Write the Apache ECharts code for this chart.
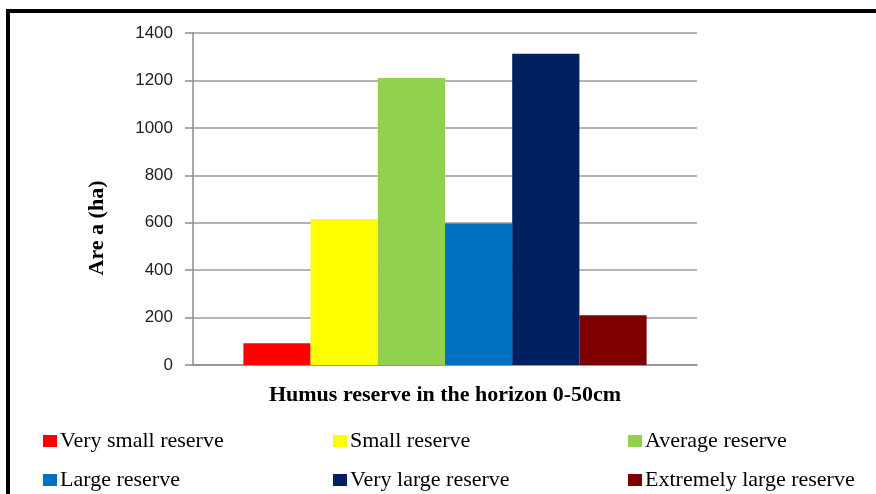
<!DOCTYPE html>
<html>
<head>
<meta charset="utf-8">
<script src="https://cdn.jsdelivr.net/npm/echarts@6/dist/echarts.min.js"></script>
<style>
  html, body { margin: 0; padding: 0; background: #fff; }
  #chart { width: 876px; height: 494px; }
</style>
</head>
<body>
<div id="chart"></div>
<script>
// Humus reserve chart data
const categories = ['Humus reserve in the horizon 0-50cm'];
const seriesNames = ['Very small reserve', 'Small reserve', 'Average reserve',
                     'Large reserve', 'Very large reserve', 'Extremely large reserve'];
const seriesValues = [92, 616, 1210, 597, 1313, 210];
const seriesColors = ['#ff0000', '#ffff00', '#92d050', '#0070c0', '#002060', '#7f0000'];
const yTicks = { min: 0, max: 1400, interval: 200 };

const serif = "'Liberation Serif', 'Times New Roman', serif";

function jsMain() {
  const chart = echarts.init(document.getElementById('chart'));

  const series = seriesNames.map((name, i) => ({
    name: name,
    type: 'bar',
    data: [seriesValues[i]],
    barGap: '0%',
    barCategoryGap: '20%',
    itemStyle: { color: seriesColors[i] },
    emphasis: { disabled: true }
  }));

  // legend: three columns of two items
  const legendCol = (left, names) => ({
    orient: 'vertical',
    left: left,
    top: 430,
    padding: 0,
    itemGap: 17,
    itemWidth: 14,
    itemHeight: 12,
    icon: 'rect',
    data: names,
    textStyle: { fontFamily: serif, fontSize: 22, lineHeight: 22, color: '#000', padding: [0, 0, 0, -2] }
  });

  const option = {
    animation: false,
    backgroundColor: '#fff',
    grid: { left: 193, right: 179, top: 33, bottom: 129 },
    legend: [
      legendCol(43, [seriesNames[0], seriesNames[3]]),
      legendCol(333, [seriesNames[1], seriesNames[4]]),
      legendCol(628, [seriesNames[2], seriesNames[5]])
    ],
    xAxis: {
      type: 'category',
      data: categories,
      name: categories[0],
      nameLocation: 'middle',
      nameGap: 19,
      nameTextStyle: { fontFamily: serif, fontSize: 22, fontWeight: 'bold', color: '#000', verticalAlign: 'top' },
      axisLabel: { show: false },
      axisTick: { show: false },
      axisLine: { lineStyle: { color: '#8c8c8c', width: 1.5 } }
    },
    yAxis: {
      type: 'value',
      min: yTicks.min,
      max: yTicks.max,
      interval: yTicks.interval,
      axisLine: { show: true, lineStyle: { color: '#8c8c8c', width: 1.5 } },
      axisTick: { show: true, length: 8, lineStyle: { color: '#8c8c8c', width: 1.5 } },
      axisLabel: {
        margin: 20,
        formatter: v => String(v),
        fontFamily: "'Liberation Sans', Arial, sans-serif",
        fontSize: 17,
        color: '#222'
      },
      splitLine: { lineStyle: { color: '#9a9a9a', width: 1.5 } }
    },
    graphic: [
      {
        type: 'text',
        x: 97,
        y: 228,
        rotation: Math.PI / 2,
        style: {
          text: 'Are a (ha)',
          fontFamily: serif,
          fontSize: 22,
          fontWeight: 'bold',
          fill: '#000',
          textAlign: 'center',
          textVerticalAlign: 'middle'
        }
      },
      {
        // thick black frame (right/bottom edges fall outside the picture)
        type: 'rect',
        shape: { x: 8, y: 11, width: 900, height: 520 },
        style: { fill: null, stroke: '#000', lineWidth: 4 },
        silent: true
      }
    ],
    series: series
  };

  chart.setOption(option);
}

jsMain();
</script>
</body>
</html>
